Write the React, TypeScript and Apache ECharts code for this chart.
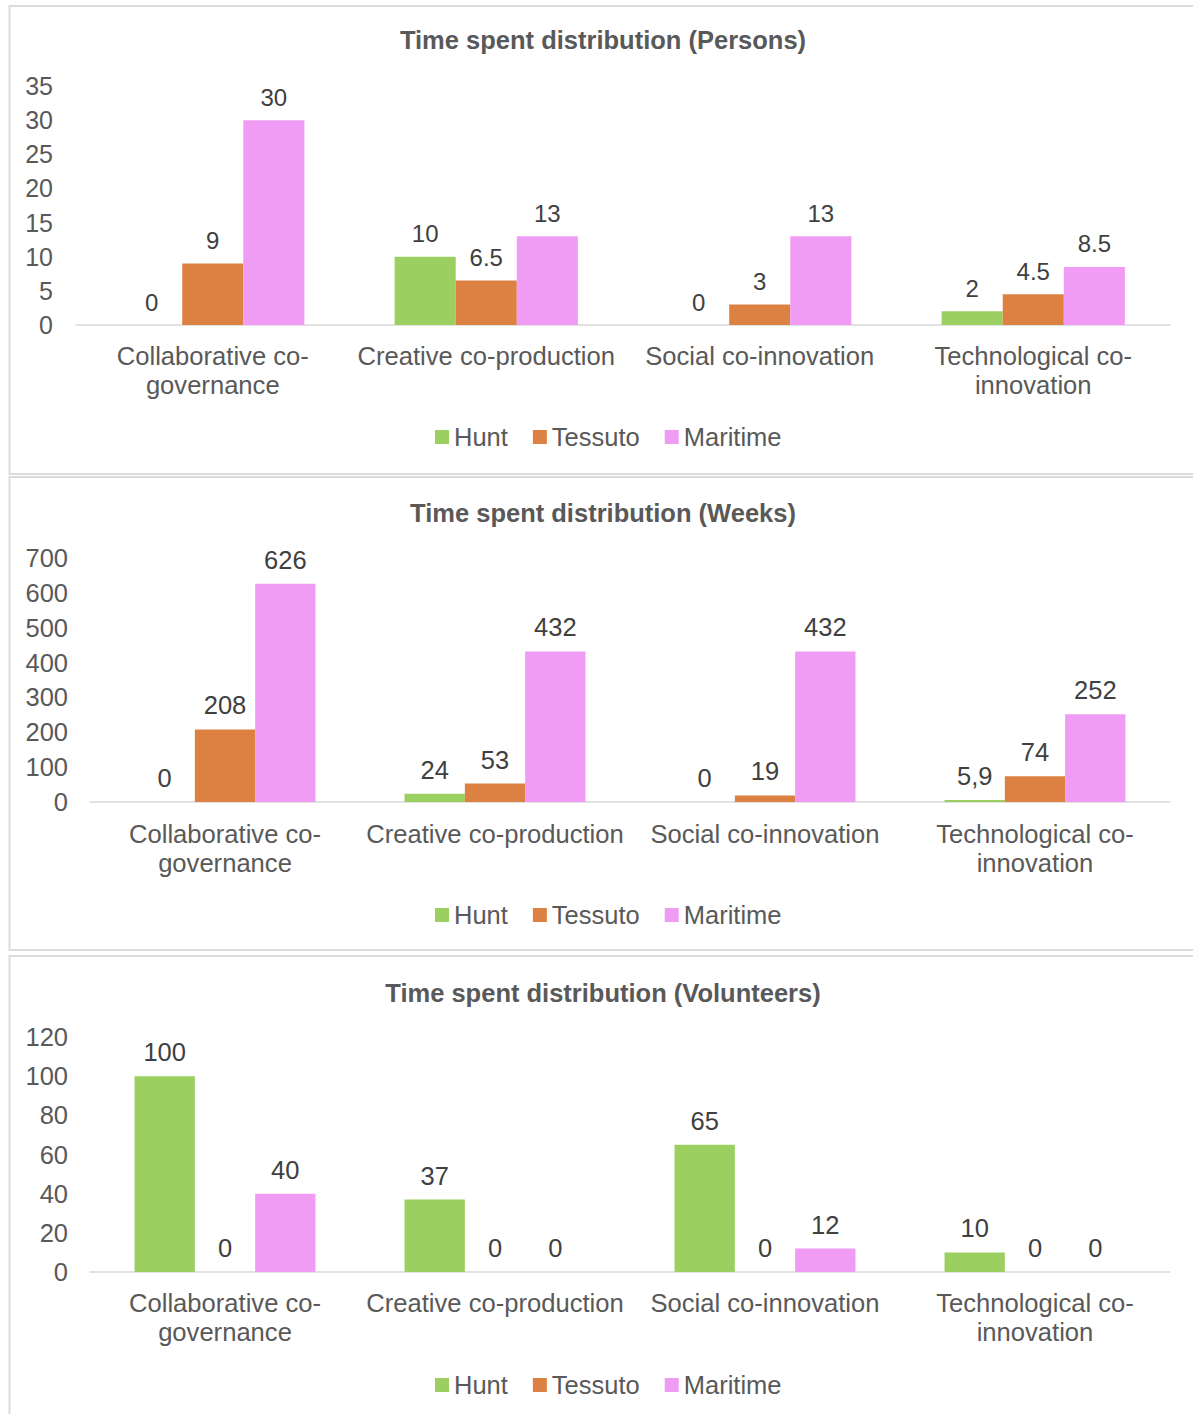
import React, { useEffect, useRef } from "react";
import * as echarts from "echarts";

// Categories shared by all three panels
const categories = [
  "Collaborative co-governance",
  "Creative co-production",
  "Social co-innovation",
  "Technological co-innovation",
];
const seriesNames = ["Hunt", "Tessuto", "Maritime"];
const seriesColors = ["#9bcf60", "#dc8141", "#f09cf4"];

// Persons
const personsHunt = [0, 10, 0, 2];
const personsTessuto = [9, 6.5, 3, 4.5];
const personsMaritime = [30, 13, 13, 8.5];
const personsTicks = { min: 0, max: 35, interval: 5 };

// Weeks
const weeksHunt = [0, 24, 0, 5.9];
const weeksTessuto = [208, 53, 19, 74];
const weeksMaritime = [626, 432, 432, 252];
const weeksTicks = { min: 0, max: 700, interval: 100 };

// Volunteers
const volunteersHunt = [100, 37, 65, 10];
const volunteersTessuto = [0, 0, 0, 0];
const volunteersMaritime = [40, 0, 12, 0];
const volunteersTicks = { min: 0, max: 120, interval: 20 };

const FONT = "'Liberation Sans', Arial, Helvetica, sans-serif";

const panels = [
  {
    title: "Time spent distribution (Persons)",
    data: [personsHunt, personsTessuto, personsMaritime],
    ticks: personsTicks,
    sep: ".",
    box: { y: 6, h: 468 },
    titleY: 40,
    grid: { left: 76, top: 86, bottom: 325 },
    yLabelMargin: 23,
    yLabelSize: 25,
    catMargin: 16,
    valueSize: 24,
    legendY: 437,
  },
  {
    title: "Time spent distribution (Weeks)",
    data: [weeksHunt, weeksTessuto, weeksMaritime],
    ticks: weeksTicks,
    sep: ",",
    box: { y: 477, h: 473 },
    titleY: 513,
    grid: { left: 90, top: 558, bottom: 802 },
    yLabelMargin: 22,
    yLabelSize: 25.5,
    catMargin: 17,
    valueSize: 25.5,
    legendY: 915,
  },
  {
    title: "Time spent distribution (Volunteers)",
    data: [volunteersHunt, volunteersTessuto, volunteersMaritime],
    ticks: volunteersTicks,
    sep: ".",
    box: { y: 956, h: 480 },
    titleY: 993,
    grid: { left: 90, top: 1037, bottom: 1272 },
    yLabelMargin: 22,
    yLabelSize: 25.5,
    catMargin: 16,
    valueSize: 25.5,
    legendY: 1385,
  },
];

const W = 1193;
const H = 1414;

const wrapCategory = (s: string) => (s.length > 24 ? s.replace(" co-", " co-\n") : s);

export default function App() {
  const ref = useRef<HTMLDivElement>(null);

  useEffect(() => {
    if (!ref.current) return;
    const chart = echarts.init(ref.current, null, { renderer: "svg" });

    const grids: any[] = [];
    const xAxes: any[] = [];
    const yAxes: any[] = [];
    const series: any[] = [];
    const legends: any[] = [];
    const graphics: any[] = [];

    panels.forEach((p, i) => {
      graphics.push({
        type: "rect",
        shape: { x: 9.5, y: p.box.y, width: 1200, height: p.box.h },
        style: { fill: "#ffffff", stroke: "#dcdcdc", lineWidth: 2 },
        z: -10,
      });
      graphics.push({
        type: "text",
        x: 603,
        y: p.titleY,
        style: {
          text: p.title,
          align: "center",
          verticalAlign: "middle",
          fill: "#595959",
          font: `bold 25.5px ${FONT}`,
        },
      });

      grids.push({
        left: p.grid.left,
        right: 23,
        top: p.grid.top,
        height: p.grid.bottom - p.grid.top,
        containLabel: false,
      });
      xAxes.push({
        type: "category",
        gridIndex: i,
        data: categories,
        axisLine: { show: true, lineStyle: { color: "#d9d9d9", width: 1.5 } },
        axisTick: { show: false },
        axisLabel: {
          interval: 0,
          margin: p.catMargin,
          fontFamily: FONT,
          fontSize: 25.6,
          lineHeight: 29,
          color: "#595959",
          formatter: wrapCategory,
        },
      });
      yAxes.push({
        type: "value",
        gridIndex: i,
        min: p.ticks.min,
        max: p.ticks.max,
        interval: p.ticks.interval,
        axisLine: { show: false },
        axisTick: { show: false },
        splitLine: { show: false },
        axisLabel: {
          margin: p.yLabelMargin,
          fontFamily: FONT,
          fontSize: p.yLabelSize,
          color: "#595959",
        },
      });

      seriesNames.forEach((name, k) => {
        series.push({
          type: "bar",
          name,
          xAxisIndex: i,
          yAxisIndex: i,
          data: p.data[k],
          barGap: "0%",
          barCategoryGap: "33%",
          itemStyle: { color: seriesColors[k] },
          label: {
            show: true,
            position: "top",
            distance: 11,
            fontFamily: FONT,
            fontSize: p.valueSize,
            color: "#404040",
            formatter: (v: any) => String(v.value).replace(".", p.sep),
          },
        });
      });

      legends.push({
        data: seriesNames,
        left: 435,
        top: p.legendY - 14.5,
        padding: 0,
        icon: "rect",
        itemWidth: 14,
        itemHeight: 14,
        itemGap: 25,
        selectedMode: false,
        textStyle: {
          fontFamily: FONT,
          fontSize: 25.5,
          lineHeight: 29,
          color: "#595959",
        },
      });
    });

    chart.setOption({
      animation: false,
      backgroundColor: "#ffffff",
      textStyle: { fontFamily: FONT },
      graphic: graphics,
      grid: grids,
      xAxis: xAxes,
      yAxis: yAxes,
      legend: legends,
      series,
    });

    return () => chart.dispose();
  }, []);

  return (
    <div
      ref={ref}
      style={{ position: "absolute", left: 0, top: 0, width: W, height: H }}
    />
  );
}
